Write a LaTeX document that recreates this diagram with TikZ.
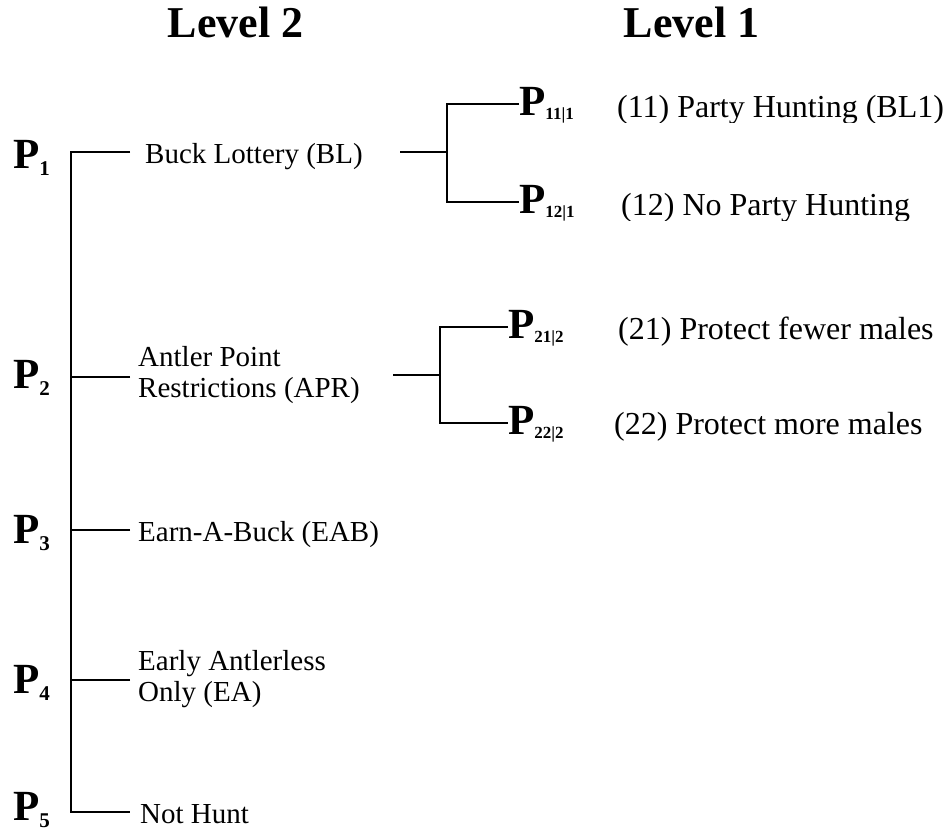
\documentclass[tikz,border=0pt]{standalone}
\usepackage{fontspec}
\setmainfont{Liberation Serif}
\newcommand{\fsz}[1]{\fontsize{#1}{#1}\selectfont}
% bold P with a lowered bold index: {index}{index size}{drop}
\newcommand{\PL}[3]{{\fsz{43}\bfseries P}\raisebox{-#3pt}{\fsz{#2}\bfseries #1}}
\begin{document}
\begin{tikzpicture}[x=1pt,y=-1pt,
  conn/.style={line width=1.8pt,line join=miter},
  head/.style={inner sep=0,anchor=base,font=\fsz{44}\bfseries},
  lab/.style={inner sep=0,anchor=base west,font=\fsz{29}},
  opt/.style={inner sep=0,anchor=base west,font=\fsz{32}},
  plab/.style={inner sep=0,anchor=base west}]
\useasboundingbox (0,0) rectangle (949,830);

% column headings
\node[head] (lv2) at (235.5,37) {Level 2};
\node[head] (lv1) at (691.5,37) {Level 1};

% level 2 probabilities
\node[plab] (p1) at (13,168) {\PL{1}{21}{7}};
\node[plab] (p2) at (13,388) {\PL{2}{21}{7}};
\node[plab] (p3) at (13,543) {\PL{3}{21}{7}};
\node[plab] (p4) at (13,693) {\PL{4}{21}{7}};
\node[plab] (p5) at (13,820) {\PL{5}{21}{7}};

% level 2 alternatives
\node[lab] (bl)   at (145,163) {Buck Lottery (BL)};
\node[lab] (apr1) at (138,366) {Antler Point};
\node[lab] (apr2) at (138,397) {Restrictions (APR)};
\node[lab] (eab)  at (138,541) {Earn-A-Buck (EAB)};
\node[lab] (ea1)  at (138,670) {Early Antlerless};
\node[lab] (ea2)  at (138,701) {Only (EA)};
\node[lab] (nh)   at (140,823) {Not Hunt};

% level 1 probabilities
\node[plab] (p11) at (519,115) {\PL{11|1}{17}{4}};
\node[plab] (p12) at (519,213) {\PL{12|1}{17}{4}};
\node[plab] (p21) at (508,338) {\PL{21|2}{17}{4}};
\node[plab] (p22) at (508,434) {\PL{22|2}{17}{4}};

% level 1 alternatives (the Party Hunting lines are cut just below the baseline)
\begin{scope}
  \clip (590,60) rectangle (949,122);
  \node[opt] (o11) at (617,117) {(11) Party Hunting (BL1)};
\end{scope}
\begin{scope}
  \clip (590,170) rectangle (949,220);
  \node[opt] (o12) at (621,215) {(12) No Party Hunting};
\end{scope}
\node[opt] (o21) at (618,339) {(21) Protect fewer males};
\node[opt] (o22) at (614,434) {(22) Protect more males};

% tree of level 2
\coordinate (top)  at (71,152);
\coordinate (bot)  at (71,812);
\coordinate (e1) at (130,152);
\coordinate (e2) at (130,377);
\coordinate (e3) at (130,530);
\coordinate (e4) at (130,680);
\coordinate (e5) at (130,812);
\draw[conn] (e1) -- (top) -- (bot) -- (e5);
\draw[conn] (e2) -- (top |- e2);
\draw[conn] (e3) -- (top |- e3);
\draw[conn] (e4) -- (top |- e4);

% branch under Buck Lottery
\coordinate (s1) at (400,152);
\coordinate (j1) at (447,152);
\draw[conn] (s1) -- (j1);
\draw[conn] ([yshift=11pt]p11.base west) -| (j1) |- ([yshift=11pt]p12.base west);

% branch under Antler Point Restrictions
\coordinate (s2) at (393,375);
\coordinate (j2) at (440,375);
\draw[conn] (s2) -- (j2);
\draw[conn] ([yshift=11pt]p21.base west) -| (j2) |- ([yshift=11pt]p22.base west);
\end{tikzpicture}
\end{document}
